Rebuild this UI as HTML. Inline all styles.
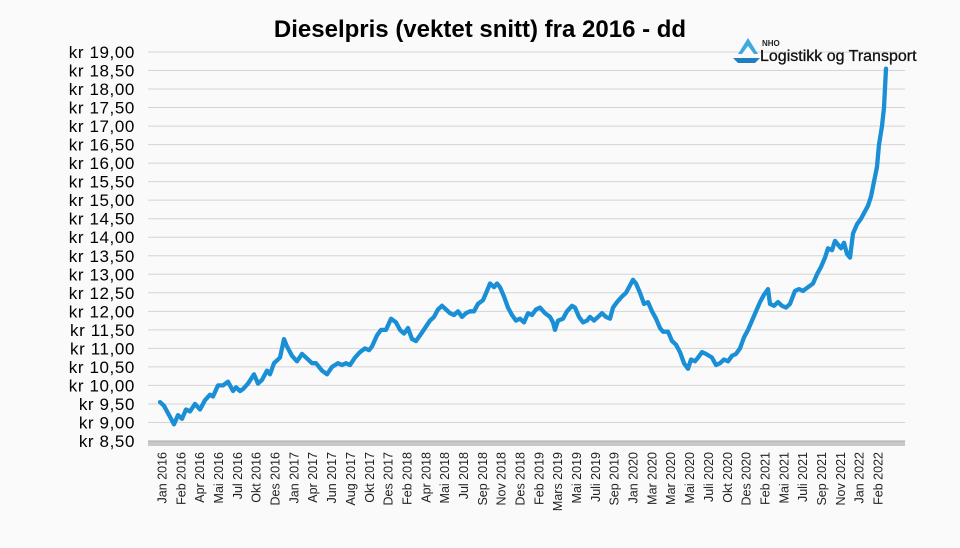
<!DOCTYPE html>
<html><head><meta charset="utf-8"><style>
body{margin:0;background:#fafafa;}
svg{display:block;font-family:"Liberation Sans",sans-serif;}
</style></head><body>
<svg width="960" height="548" viewBox="0 0 960 548">
<rect width="960" height="548" fill="#fafafa"/>
<text x="480" y="37" text-anchor="middle" font-size="24" font-weight="bold" fill="#000">Dieselpris (vektet snitt) fra 2016 - dd</text>
<g id="grid" stroke="#d4d4d4" stroke-width="1"></g>
<g id="ylab" font-size="17" letter-spacing="0.6" fill="#000" text-anchor="end"></g>
<rect x="148" y="441" width="757" height="5" fill="#c8c8c8"/>
<line x1="148" y1="441" x2="905" y2="441" stroke="#aaa"/>
<g id="xlab" font-size="12.5" fill="#222"></g>
<polyline id="line" fill="none" stroke="#1a8fd6" stroke-width="4.3" stroke-linejoin="round" stroke-linecap="round"/>
<g>
<path d="M738 54 L748 38 L758 54 Z" fill="#3fa9e0"/>
<path d="M742 54 L748 46 L754 54 Z" fill="#fafafa"/>
<path d="M733 58 L760 58 L755 63 L738 63 Z" fill="#1f7fc0"/>
<text x="762" y="46" font-size="8" font-weight="bold" fill="#222">NHO</text>
<text x="760" y="61" font-size="16" fill="#111" stroke="#111" stroke-width="0.3">Logistikk og Transport</text>
</g>
</svg>
<script>
const y=v=>441-(v-8.5)*37.05;
let g='',l='';
for(let i=0;i<=21;i++){const v=8.5+i*0.5,yy=y(v);
 g+=`<line x1="148" y1="${yy}" x2="905" y2="${yy}"/>`;
 l+=`<text x="135" y="${yy+6}">kr ${v.toFixed(2).replace('.',',')}</text>`;}
document.getElementById('grid').innerHTML=g;document.getElementById('ylab').innerHTML=l;
const labs=["Jan 2016","Feb 2016","Apr 2016","Mai 2016","Jul 2016","Okt 2016","Des 2016","Jan 2017","Apr 2017","Jun 2017","Aug 2017","Okt 2017","Des 2017","Feb 2018","Apr 2018","Mai 2018","Jul 2018","Sep 2018","Nov 2018","Des 2018","Feb 2019","Mars 2019","Mai 2019","Juli 2019","Sep 2019","Jan 2020","Mar 2020","Mar 2020","Mai 2020","Juli 2020","Okt 2020","Des 2020","Feb 2021","Mai 2021","Juli 2021","Sep 2021","Nov 2021","Jan 2022","Feb 2022"];
let x='';const n=labs.length;
labs.forEach((t,i)=>{const xx=162+i*(878-162)/(n-1);
 x+=`<text transform="translate(${xx+4.5},452) rotate(-90)" text-anchor="end">${t}</text>`;});
document.getElementById('xlab').innerHTML=x;
const d=[160,9.55,164,9.45,170,9.15,174,8.95,178,9.2,182,9.1,186,9.35,190,9.3,195,9.5,200,9.35,205,9.6,210,9.75,213,9.7,218,10.0,223,10.0,228,10.1,233,9.85,236,9.95,240,9.85,243,9.9,248,10.05,254,10.3,258,10.05,262,10.15,267,10.4,270,10.3,274,10.6,280,10.75,284,11.25,287,11.05,292,10.8,297,10.65,302,10.85,306,10.75,312,10.6,316,10.6,322,10.4,327,10.3,332,10.5,338,10.6,342,10.55,346,10.6,350,10.55,355,10.75,360,10.9,365,11.0,369,10.95,372,11.05,377,11.35,381,11.5,386,11.5,391,11.8,396,11.7,400,11.5,404,11.4,408,11.55,412,11.25,416,11.2,420,11.35,425,11.55,430,11.75,434,11.85,438,12.05,442,12.15,446,12.05,450,11.95,454,11.9,458,12.0,462,11.85,466,11.95,470,12.0,474,12.0,478,12.2,483,12.3,487,12.55,490,12.75,494,12.65,497,12.75,500,12.65,504,12.4,508,12.1,512,11.9,516,11.75,520,11.8,524,11.7,528,11.95,532,11.9,536,12.05,540,12.1,545,11.95,550,11.85,553,11.7,555,11.5,558,11.75,563,11.8,567,12.0,572,12.15,575,12.1,579,11.85,583,11.7,587,11.75,590,11.85,594,11.75,598,11.85,602,11.95,606,11.85,610,11.8,613,12.1,617,12.25,622,12.4,626,12.5,630,12.7,633,12.85,636,12.75,640,12.5,644,12.2,648,12.25,652,12.0,656,11.8,660,11.55,663,11.45,668,11.45,672,11.2,676,11.1,680,10.9,684,10.6,688,10.45,691,10.7,695,10.65,698,10.75,702,10.9,706,10.85,712,10.75,716,10.55,720,10.6,724,10.7,728,10.65,732,10.8,736,10.85,740,11.0,744,11.3,748,11.5,752,11.75,756,12.0,760,12.25,764,12.45,768,12.6,770,12.2,774,12.15,778,12.25,782,12.15,786,12.1,790,12.2,795,12.55,799,12.6,803,12.55,808,12.65,813,12.75,817,13.0,821,13.2,825,13.45,828,13.7,832,13.65,835,13.9,838,13.8,841,13.7,844,13.85,847,13.55,850,13.45,853,14.1,857,14.35,861,14.5,865,14.7,868,14.85,871,15.1,874,15.5,877,15.9,879,16.5,882,17.0,884,17.5,886,18.55];
let p=[];for(let i=0;i<d.length;i+=2)p.push(d[i]+','+y(d[i+1]).toFixed(1));
document.getElementById('line').setAttribute('points',p.join(' '));
</script>
</body></html>
